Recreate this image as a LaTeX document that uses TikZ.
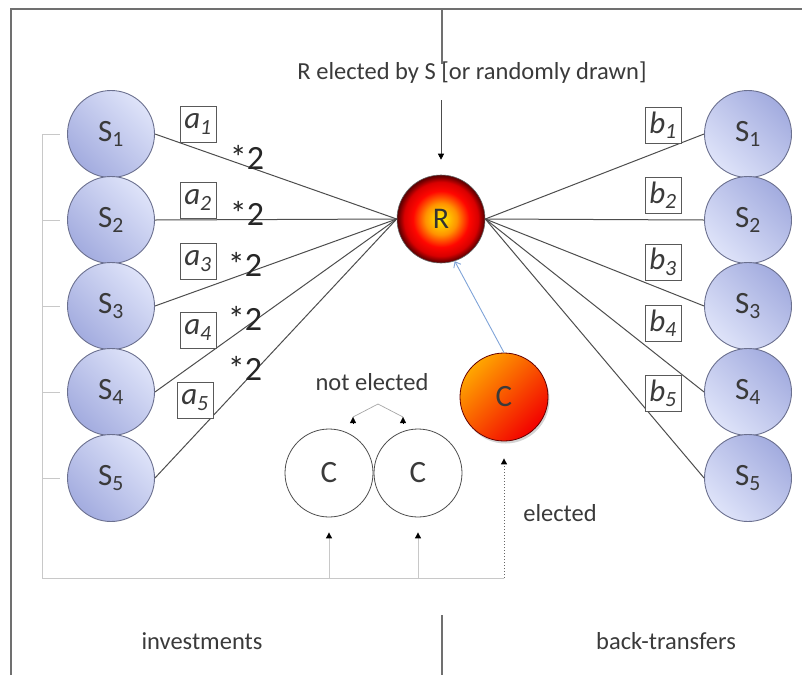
\documentclass[tikz,border=0pt]{standalone}
\usepackage{fontspec}
\setmainfont{Carlito}
\usetikzlibrary{arrows.meta,shadows}
\definecolor{txt}{HTML}{3A3A3A}
\definecolor{sdark}{HTML}{A3ACDF}
\definecolor{slight}{HTML}{DEE3F9}
\definecolor{sborder}{HTML}{6B708F}
\definecolor{framec}{HTML}{707070}
\definecolor{busc}{HTML}{C8C8C8}
\definecolor{edgec}{HTML}{4D4D4D}
\definecolor{bluec}{HTML}{7FA3D8}
\pgfdeclareradialshading{rball}{\pgfpoint{0bp}{0bp}}{%
  color(0bp)=(yellow!90!orange);
  color(9bp)=(orange!85!yellow);
  color(16bp)=(red!95!orange);
  color(21bp)=(red!85!black);
  color(24bp)=(red!45!black);
  color(25bp)=(red!35!black);
  color(50bp)=(red!35!black)}
\begin{document}
\begin{tikzpicture}[x=1pt,y=-1pt,
  snode/.style={circle, minimum size=87pt, inner sep=0pt, draw=sborder, line width=0.9pt,
    font=\fontsize{31}{31}\selectfont, text=txt},
  sleft/.style={snode, left color=sdark, right color=slight, shading angle=135},
  sright/.style={snode, left color=slight, right color=sdark, shading angle=135},
  cnode/.style={circle, minimum size=88pt, inner sep=0pt, draw=black!70, line width=0.8pt,
    font=\fontsize{31}{31}\selectfont, text=txt},
  lbox/.style={draw=black!65, line width=0.8pt, minimum size=36pt, inner sep=0pt,
    font=\fontsize{31}{31}\selectfont\itshape, text=txt},
  times/.style={font=\fontsize{34}{34}\selectfont, text=black!85, inner sep=0pt},
  lbl/.style={font=\fontsize{24.5}{24.5}\selectfont, text=txt, inner sep=0pt},
  edge/.style={draw=edgec, line width=1pt},
  frame/.style={draw=framec, line width=1.4pt},
  bus/.style={draw=busc, line width=1pt},
  tip/.style={-{Triangle[width=6pt,length=6pt,color=black]}},
]
\useasboundingbox (0,0) rectangle (802,675);
% frame
\draw[frame] (11,675) -- (11,9) -- (802,9);
\draw[frame] (442,9) -- (442,64);
\draw[frame] (442,615) -- (442,675);

% nodes
\node[circle, minimum size=88pt, inner sep=0pt, shading=rball, draw=black!60, line width=0.6pt,
  font=\fontsize{30}{30}\selectfont, text=black!80] (R) at (441,219) {R};
\node[cnode, draw=red!40!black, left color=orange!70!yellow, right color=red!95!black, shading angle=45,
  drop shadow={opacity=0.35, shadow xshift=1.5pt, shadow yshift=-2.5pt}] (C3) at (504,397) {C};
\node[cnode] (C1) at (329,473) {C};
\node[cnode] (C2) at (418,473) {C};

\foreach \i/\y in {1/134,2/220,3/306,4/392,5/478}{
  \node[sleft] (L\i) at (111,\y) {S\textsubscript{\i}};
  \node[sright] (Q\i) at (748,\y) {S\textsubscript{\i}};
}
% edges to R
\foreach \i in {1,...,5}{
  \draw[edge] (L\i.east) -- (R.west);
  \draw[edge] (R.east) -- (Q\i.west);
}

% labels a_i
\node[lbox, fill=white] (a1) at (198,124) {a\textsubscript{1}};
\node[lbox, fill=white] (a2) at (198,200) {a\textsubscript{2}};
\node[lbox, fill=white] (a3) at (198,261) {a\textsubscript{3}};
\node[lbox, fill=white] (a4) at (198,330) {a\textsubscript{4}};
\node[lbox, fill=white] (a5) at (195,400) {a\textsubscript{5}};
\node[times] (m1) at (247,157) {*2};
\node[times] (m2) at (247,213) {*2};
\node[times] (m3) at (245,264) {*2};
\node[times] (m4) at (245,318) {*2};
\node[times] (m5) at (245,368) {*2};
% labels b_i
\node[lbox, fill=white] (b1) at (663,125) {b\textsubscript{1}};
\node[lbox, fill=white] (b2) at (663,195) {b\textsubscript{2}};
\node[lbox, fill=white] (b3) at (663,262) {b\textsubscript{3}};
\node[lbox, fill=white] (b4) at (663,323) {b\textsubscript{4}};
\node[lbox, fill=white] (b5) at (663,393) {b\textsubscript{5}};

% top text and arrow
\node[lbl] (top) at (472,73) {R elected by S [or randomly drawn]};
\coordinate (topA) at (441,100);
\draw[draw=black!70, line width=0.6pt, tip, shorten >=15pt] (topA) -- (R.north);

% blue arrow
\draw[draw=bluec, line width=0.9pt, -{Straight Barb[length=5pt,width=8pt]}] (C3.north) -- (R.-72);

% not elected
\node[lbl] (ne) at (372,382) {not elected};
\coordinate (pk) at (378,404);
\coordinate (e1) at (353,417);
\coordinate (e2) at (403,417);
\coordinate (e1b) at (353,424);
\coordinate (e2b) at (403,424);
\draw[draw=black!35, line width=0.7pt] (e1) -- (pk) -- (e2);
\draw[black, line width=0.1pt, tip] (e1b) -- (e1);
\draw[black, line width=0.1pt, tip] (e2b) -- (e2);

% elected
\node[lbl] (el) at (560,513) {elected};

% bus
\coordinate (bt) at (42,134);
\coordinate (bb) at (42,578);
\coordinate (bx1) at (329,578);
\coordinate (bx2) at (418,578);
\coordinate (bx3) at (504,578);
\draw[bus] (bt) -- (bb) -- (bx3);
\foreach \i in {1,...,5}{
  \draw[bus] (L\i.west -| bt) -- ([xshift=-7pt]L\i.west);
}
\draw[bus, tip, shorten >=15pt] (bx1) -- (C1.south);
\draw[bus, tip, shorten >=15pt] (bx2) -- (C2.south);
\draw[draw=black!60, line width=1pt, dotted, tip, shorten >=17pt] (bx3) -- (C3.south);

% bottom labels
\node[lbl] (inv) at (202,641) {investments};
\node[lbl] (bt2) at (666,641) {back-transfers};
\end{tikzpicture}
\end{document}
